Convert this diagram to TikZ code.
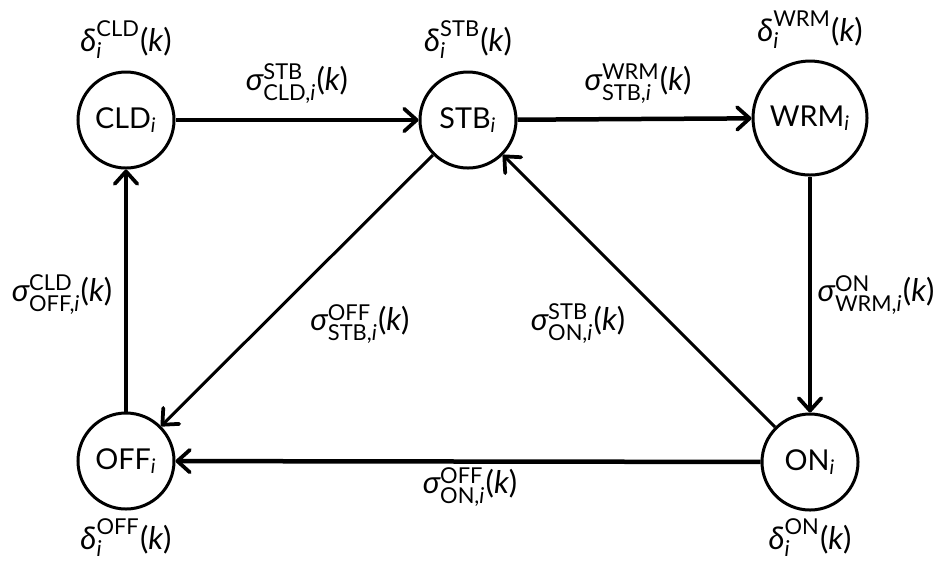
\documentclass[tikz,border=0pt]{standalone}
\usepackage{amsmath}
\usepackage{fontspec}
\setmainfont{Lato}
\usetikzlibrary{arrows.meta}
% state name with italic index i
\newcommand\stname[1]{#1$_{\text{\itshape i}}$}
% transition symbol: #1 greek letter, #2 superscript, #3 subscript (without i)
\newcommand\trlab[3]{$\text{\itshape #1}^{\text{#2}}_{\text{#3\upshape,\itshape i}}\text{(\itshape k\upshape)}$}
% duration symbol: #1 greek letter, #2 superscript
\newcommand\durlab[2]{$\text{\itshape #1}^{\text{#2}}_{\text{\itshape i}}\text{(\itshape k\upshape)}$}
\begin{document}
\begin{tikzpicture}[x=0.4pt,y=-0.4pt,
  font=\fontsize{11.5}{13}\selectfont,
  state/.style={circle,draw,line width=1.2pt,minimum size=38.4pt,inner sep=1pt},
  lab/.style={font=\fontsize{12.5}{15}\selectfont},
  tip/.tip={Straight Barb[length=5pt,width=9pt,line width=1.5pt,round]},
  edge/.style={line width=1.8pt,-tip},
  diag/.style={line width=1.2pt,-tip}]
\useasboundingbox (0,0) rectangle (945,563);

\node[state] (CLD) at (126,120) {\stname{CLD}};
\node[state] (STB) at (468,120) {\stname{STB}};
\node[state,minimum size=45.6pt] (WRM) at (810,118) {\stname{WRM}};
\node[state] (OFF) at (126,461) {\stname{OFF}};
\node[state] (ON)  at (810,462) {\stname{ON}};

% state durations
\node[lab] (dCLD) at (126,40) {\durlab{δ}{CLD}};
\node[lab] (dSTB) at (468,40) {\durlab{δ}{STB}};
\node[lab] (dWRM) at (810,30) {\durlab{δ}{WRM}};
\node[lab] (dOFF) at (126,538) {\durlab{δ}{OFF}};
\node[lab] (dON)  at (810,538) {\durlab{δ}{ON}};

% transitions
\draw[edge] (CLD) -- (STB);
\draw[edge] (STB) -- (WRM);
\draw[edge] (WRM) -- (ON);
\draw[edge] (ON) -- (OFF);
\draw[edge] (OFF) -- (CLD);
\draw[diag] (STB) -- (OFF);
\draw[diag] (ON) -- (STB);

% transition labels
\node[lab] (tCS) at (297,84)  {\trlab{σ}{STB}{CLD}};
\node[lab] (tSW) at (638,84)  {\trlab{σ}{WRM}{STB}};
\node[lab] (tWO) at (876,295) {\trlab{σ}{ON}{WRM}};
\node[lab] (tOO) at (470,487) {\trlab{σ}{OFF}{ON}};
\node[lab] (tOC) at (62,295)  {\trlab{σ}{CLD}{OFF}};
\node[lab] (tSO) at (360,324) {\trlab{σ}{OFF}{STB}};
\node[lab] (tOS) at (578,324) {\trlab{σ}{STB}{ON}};
\end{tikzpicture}
\end{document}
